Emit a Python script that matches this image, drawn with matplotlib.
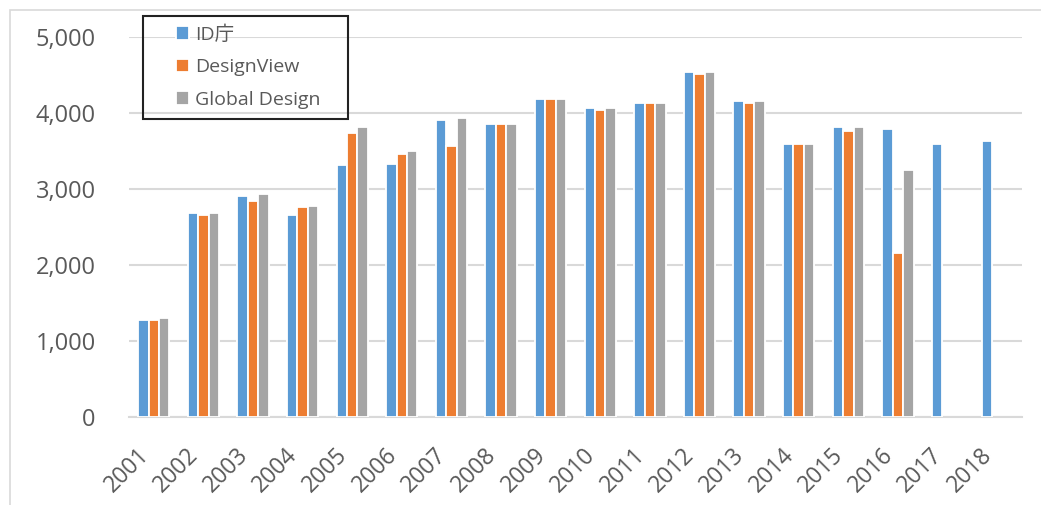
import numpy as np
import matplotlib.pyplot as plt
from matplotlib.patches import Rectangle
from matplotlib.ticker import FuncFormatter
from matplotlib.transforms import ScaledTranslation

plt.rcParams['font.family'] = ['Open Sans', 'Noto Sans CJK JP', 'DejaVu Sans']

years = [str(y) for y in range(2001, 2019)]
series_names = ['ID庁', 'DesignView', 'Global Design']
id_office = [1275, 2680, 2910, 2655, 3310, 3330, 3910, 3860, 4185, 4060,
             4135, 4540, 4160, 3585, 3810, 3785, 3585, 3630]
design_view = [1275, 2650, 2835, 2755, 3735, 3460, 3560, 3860, 4185, 4035,
               4135, 4510, 4135, 3585, 3760, 2155, None, None]
global_design = [1295, 2680, 2930, 2780, 3810, 3505, 3930, 3860, 4185, 4060,
                 4135, 4540, 4160, 3585, 3810, 3255, None, None]
colors = ['#5B9BD5', '#ED7D31', '#A5A5A5']
grid_col = '#D9D9D9'
text_col = '#595959'

fig = plt.figure(figsize=(10.41, 5.05), dpi=100)
ax = fig.add_axes([0.1239, 0.1749, 0.8578, 0.7518])

x = np.arange(len(years))
step = 0.21
handles = []
for i, vals in enumerate([id_office, design_view, global_design]):
    xs = [x[j] + (i - 1) * step for j, v in enumerate(vals) if v is not None]
    hs = [v for v in vals if v is not None]
    b = ax.bar(xs, hs, width=step, color=colors[i], edgecolor='white',
               linewidth=1.3, label=series_names[i], zorder=3)
    handles.append(b)

ax.set_xlim(-0.5, len(years) - 0.5)
ax.set_ylim(0, 5000)
ax.set_yticks(range(0, 5001, 1000))
ax.yaxis.set_major_formatter(FuncFormatter(lambda v, p: f'{int(v):,}'))
ax.grid(axis='y', color=grid_col, linewidth=1.5, zorder=0)
ax.set_axisbelow(True)
for s in ['top', 'right', 'left']:
    ax.spines[s].set_visible(False)
ax.spines['bottom'].set_color(grid_col)
ax.spines['bottom'].set_linewidth(1.5)

ax.set_xticks(x)
ax.set_xticklabels(years, rotation=45, ha='right', fontsize=16.5, color=text_col)
off = ScaledTranslation(4 / 72, 0, fig.dpi_scale_trans)
for lab in ax.get_xticklabels():
    lab.set_transform(lab.get_transform() + off)
ax.tick_params(axis='x', length=0, pad=19)
ax.tick_params(axis='y', length=0, pad=24, labelsize=17, labelcolor=text_col)

# legend, with its own box
leg = fig.legend(handles=handles, loc='upper left', bbox_to_anchor=(0.169, 0.95),
                 frameon=False, fontsize=14, handlelength=0.68, handleheight=0.68,
                 handletextpad=0.3, labelspacing=0.75, borderaxespad=0, borderpad=0)
for t in leg.get_texts():
    t.set_color(text_col)
fig.patches.append(Rectangle((143 / 1041, 1 - 119 / 505), 205 / 1041, 103 / 505,
                             transform=fig.transFigure, fill=False,
                             edgecolor='#222222', linewidth=1.5, zorder=5))

# chart area border (cropped at right and bottom)
fig.patches.append(Rectangle((10 / 1041, -0.1), 1.2, 1.1 - 10 / 505,
                             transform=fig.transFigure, fill=False,
                             edgecolor=grid_col, linewidth=1.2))

fig.savefig('out.png', dpi=100)
